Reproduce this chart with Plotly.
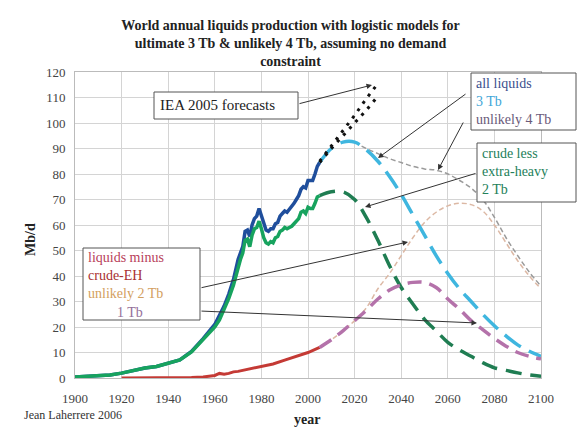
import plotly.graph_objects as go

# ---- historical production (Mb/d) ----
hist_years = [1900, 1905, 1910, 1915, 1920, 1925, 1930, 1935, 1940, 1945, 1950, 1955,
              1960, 1962, 1964, 1966, 1968, 1970, 1971, 1972, 1973, 1974, 1975, 1976,
              1977, 1978, 1979, 1980, 1981, 1982, 1983, 1984, 1985, 1986, 1987, 1988,
              1989, 1990, 1991, 1992, 1993, 1994, 1995, 1996, 1997, 1998, 1999, 2000,
              2001, 2002, 2003, 2004, 2005]
all_liquids = [0.4, 0.6, 0.9, 1.2, 1.9, 2.9, 3.9, 4.5, 5.9, 7.1, 10.4, 15.4,
               21.0, 24.3, 28.2, 32.9, 38.6, 46.5, 49.0, 51.5, 57.5, 58.0, 55.5, 60.0,
               62.5, 63.5, 66.5, 63.5, 60.0, 58.0, 57.5, 58.5, 58.5, 60.5, 61.0, 63.5,
               64.5, 65.5, 65.0, 66.0, 67.0, 68.5, 70.0, 71.5, 74.0, 75.0, 74.5, 77.5,
               77.5, 77.5, 80.0, 83.0, 84.5]
crude_less_eh = [0.4, 0.6, 0.9, 1.2, 1.9, 2.9, 3.9, 4.5, 5.9, 7.1, 10.2, 15.0,
                 20.0, 22.8, 26.8, 31.2, 36.4, 44.0, 46.5, 49.0, 54.0, 54.5, 51.5, 56.0,
                 58.5, 59.0, 61.5, 58.5, 55.0, 53.0, 52.5, 53.5, 53.0, 55.0, 55.5, 57.5,
                 58.0, 59.0, 58.5, 59.0, 59.5, 60.5, 61.5, 62.5, 65.0, 65.5, 64.5, 67.0,
                 66.5, 66.5, 68.5, 71.0, 71.5]

red_years = [1920, 1930, 1940, 1950, 1955, 1960, 1962, 1964, 1966, 1968, 1970,
             1975, 1980, 1985, 1990, 1995, 2000, 2005]
liquids_minus_crude = [0.0, 0.0, 0.0, 0.2, 0.4, 1.0, 1.8, 1.5, 1.8, 2.4, 2.6,
                       3.5, 4.5, 5.5, 7.0, 8.5, 10.0, 12.0]

# ---- logistic models (Mb/d) ----
model_years = [2005, 2010, 2015, 2020, 2025, 2030, 2035, 2040, 2045, 2050, 2055,
               2060, 2065, 2070, 2075, 2080, 2085, 2090, 2095, 2100]
all_3tb = [84.5, 90.0, 92.5, 92.5, 89.5, 85.0, 79.0, 72.0, 64.0, 56.0, 48.0,
           41.0, 35.0, 30.0, 25.0, 20.5, 16.5, 13.0, 10.5, 8.5]
crude_2tb = [71.5, 73.0, 73.0, 70.0, 63.0, 54.0, 44.0, 35.5, 29.0, 23.0, 18.5,
             14.0, 11.0, 8.5, 6.0, 4.0, 3.0, 2.0, 1.2, 0.7]
lmc_1tb = [12.0, 15.0, 18.5, 22.5, 26.5, 31.0, 34.5, 36.5, 37.5, 37.5, 35.5,
           31.0, 27.0, 22.5, 19.0, 15.5, 12.5, 10.0, 8.5, 7.5]
lmc_2tb = [12.0, 15.0, 18.5, 22.5, 27.5, 35.0, 41.0, 48.0, 55.0, 61.0, 65.0,
           67.5, 68.5, 68.0, 65.5, 60.0, 53.0, 46.0, 40.0, 35.0]
all_4tb_years = [2020, 2025, 2030, 2035, 2040, 2045, 2050, 2055, 2060, 2065, 2070,
                 2075, 2080, 2085, 2090, 2095, 2100]
all_4tb = [92.5, 90.0, 88.0, 86.0, 84.5, 83.0, 82.0, 81.5, 80.0, 77.5, 74.5,
           70.0, 63.0, 55.0, 48.0, 41.5, 36.0]

# ---- IEA 2005 forecasts (Mb/d) ----
iea_years = [2005, 2010, 2015, 2020, 2025, 2030]
iea_high = [85.0, 91.0, 97.0, 103.0, 109.5, 115.5]
iea_ref = [84.5, 90.0, 95.0, 100.0, 105.0, 110.5]

x_ticks = [1900, 1920, 1940, 1960, 1980, 2000, 2020, 2040, 2060, 2080, 2100]
y_ticks = [0, 10, 20, 30, 40, 50, 60, 70, 80, 90, 100, 110, 120]

SERIF = "Liberation Serif, Times New Roman, serif"

fig = go.Figure()

def add_line(x, y, color, width, dash="solid", shape="linear"):
    fig.add_trace(go.Scatter(x=x, y=y, mode="lines", showlegend=False,
                             line=dict(color=color, width=width, dash=dash, shape=shape),
                             hoverinfo="skip"))

# thin scenario curves
add_line(model_years, lmc_2tb, "#dcb8a4", 1.5, "5px,3px", "spline")
add_line(all_4tb_years, all_4tb, "#9a9a9a", 1.5, "5px,3px", "spline")
# history
add_line(hist_years, all_liquids, "#1f4e9c", 3.5)
add_line(hist_years, crude_less_eh, "#17a35e", 3.5)
add_line(red_years, liquids_minus_crude, "#c43a35", 3)
# model curves
add_line(model_years, all_3tb, "#3fb6df", 3.5, "20px,9px", "spline")
add_line(model_years, crude_2tb, "#1f7d52", 3.5, "16px,9px", "spline")
add_line(model_years, lmc_1tb, "#b472aa", 3.5, "14px,8px", "spline")
# IEA forecasts
add_line(iea_years, iea_high, "#111111", 3, "3px,6px")
add_line(iea_years, iea_ref, "#111111", 3, "3px,6px")

# plot area pixel mapping (for boxes placed in paper coordinates)
L, R, T, B = 75, 541, 72, 378
def px(xp):
    return (xp - L) / (R - L)
def py(yp):
    return (B - yp) / (B - T)

def box(x0, y0, x1, y1):
    fig.add_shape(type="rect", xref="paper", yref="paper",
                  x0=px(x0), x1=px(x1), y0=py(y1), y1=py(y0),
                  line=dict(color="#555555", width=1), fillcolor="white", layer="above")

def label(xp, yp, text, size=14, color="#222222", anchor="left"):
    fig.add_annotation(xref="paper", yref="paper", x=px(xp), y=py(yp), text=text,
                       showarrow=False, xanchor=anchor, yanchor="middle",
                       font=dict(family=SERIF, size=size, color=color))

def arrow(x0, y0, x1, y1):
    # pixel coordinates converted to data coordinates
    fig.add_annotation(x=1900 + (x1 - L) / (R - L) * 200, y=(B - y1) / (B - T) * 120,
                       ax=1900 + (x0 - L) / (R - L) * 200, ay=(B - y0) / (B - T) * 120,
                       xref="x", yref="y", axref="x", ayref="y", text="",
                       showarrow=True, arrowhead=2, arrowsize=1.1, arrowwidth=1,
                       arrowcolor="#333333")

# IEA box
box(154, 92, 298, 119)
label(158, 105, "IEA 2005 forecasts", 15)
arrow(298, 104, 372, 85)

# all liquids box
box(471, 73, 576, 130)
label(474, 83, "all liquids", 14, "#3b4f8c")
label(474, 101, "3 Tb", 14, "#3fa6d8")
label(474, 119, "unlikely 4 Tb", 14, "#6a5a7a")
arrow(467, 93, 378, 158)
arrow(464, 121, 438, 170)

# crude less extra-heavy box
box(477, 143, 576, 202)
label(480, 153, "crude less", 14, "#23805a")
label(480, 171, "extra-heavy", 14, "#23805a")
label(480, 189, "2 Tb", 14, "#23805a")
arrow(477, 173, 365, 207)

# liquids minus crude-EH box
box(83, 248, 200, 320)
label(86, 257, "liquids minus", 14, "#b8405a")
label(86, 275, "crude-EH", 14, "#a8302f")
label(86, 293, "unlikely 2 Tb", 14, "#d3a060")
label(130, 312, "1 Tb", 14, "#94709a", "center")
arrow(200, 288, 408, 242)
arrow(200, 311, 477, 323)

fig.update_layout(
    width=581, height=428,
    margin=dict(l=L, r=581 - R, t=T, b=428 - B),
    paper_bgcolor="white", plot_bgcolor="white",
    font=dict(family=SERIF, size=13, color="#333333"),
    title=dict(text="<b>World annual liquids production with logistic models for<br>"
                    "ultimate 3 Tb &amp; unlikely 4 Tb, assuming no demand<br>constraint</b>",
               x=0.5, xanchor="center", y=1 - 30 / 428, yanchor="middle",
               font=dict(family=SERIF, size=14, color="#222222")),
    xaxis=dict(range=[1900, 2100], tickvals=x_ticks, showgrid=True,
               gridcolor="#d4d4d4", gridwidth=1, zeroline=False,
               showline=True, linecolor="#bbbbbb", mirror=True,
               ticks="", ticklabelstandoff=8,
               tickfont=dict(family=SERIF, size=13, color="#444444")),
    yaxis=dict(range=[0, 120], tickvals=y_ticks, showgrid=True,
               gridcolor="#d4d4d4", gridwidth=1, zeroline=False,
               showline=True, linecolor="#bbbbbb", mirror=True,
               ticks="", ticklabelstandoff=6,
               tickfont=dict(family=SERIF, size=13, color="#444444")),
)

# axis titles and credit
fig.add_annotation(xref="paper", yref="paper", x=px(30), y=py(240), text="<b>Mb/d</b>",
                   showarrow=False, textangle=-90, xanchor="center", yanchor="middle",
                   font=dict(family=SERIF, size=14, color="#222222"))
fig.add_annotation(xref="paper", yref="paper", x=px(307), y=py(419), text="<b>year</b>",
                   showarrow=False, xanchor="center", yanchor="middle",
                   font=dict(family=SERIF, size=14, color="#222222"))
fig.add_annotation(xref="paper", yref="paper", x=px(22), y=py(415), text="Jean Laherrere 2006",
                   showarrow=False, xanchor="left", yanchor="middle",
                   font=dict(family=SERIF, size=12, color="#333333"))

fig.write_html("out.html")
